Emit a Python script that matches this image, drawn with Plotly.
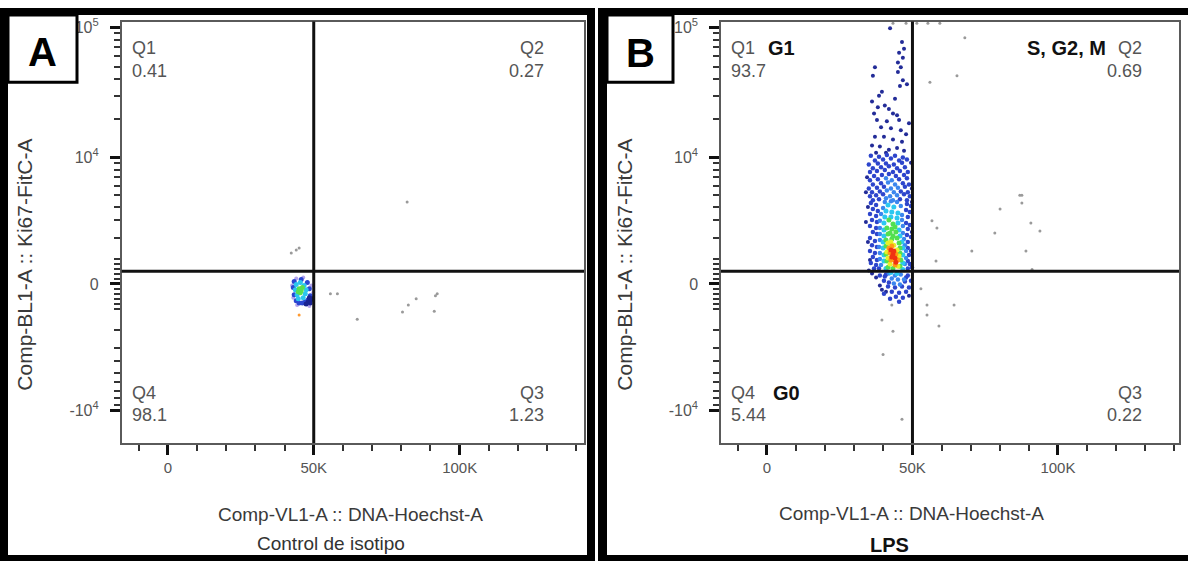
import numpy as np
import plotly.graph_objects as go

W, H = 1188, 561
COF = 2200.0  # arcsinh cofactor of the Ki67 (biexponential-like) axis


def T(v):
    return np.arcsinh(np.asarray(v, dtype=float) / COF)


# ---------------- data ----------------
X_TICKS = [0, 50000, 100000]
X_TICK_TEXT = ["0", "50K", "100K"]
X_MINOR = [-10000, 10000, 20000, 30000, 40000, 60000, 70000, 80000, 90000,
           110000, 120000, 130000, 140000]
Y_TICKS = [-10000, 0, 10000, 100000]
Y_TICK_TEXT = ["-10<sup>4</sup>", "0", "10<sup>4</sup>", "10<sup>5</sup>"]
Y_MINOR = ([-9000, -8000, -7000, -6000, -5000, -4000, -3000, -2000, -1000,
            -800, -600, -400, -200, 200, 400, 600, 800,
            1000, 2000, 3000, 4000, 5000, 6000, 7000, 8000, 9000,
            20000, 30000, 40000, 50000, 60000, 70000, 80000, 90000])
X_GATE = 50000
Y_GATE = 500

QUAD_NAMES = ["Q1", "Q2", "Q3", "Q4"]
A_QUAD_PCT = [0.41, 0.27, 1.23, 98.1]
B_QUAD_PCT = [93.7, 0.69, 0.22, 5.44]
B_PHASES = ["G1", "S, G2, M", "", "G0"]

# events: (DNA-Hoechst in thousands, Ki67 intensity)
A_GRAY = [(42.3, 1255), (44.0, 1390), (45.0, 1480), (55.7, -380), (58.1, -380),
          (64.9, -1450), (80.4, -1130), (82.4, -830), (85.1, -580), (91.7, -460),
          (92.3, -380), (91.3, -1090), (82.0, 4370)]
A_PURPLE = [(42.6, -60), (44.0, 210), (46.4, 250), (49.2, -60), (43.0, -540),
            (49.8, -340), (48.5, -870), (44.3, -830)]
A_NAVY = [(48.1, -700), (48.8, -745), (47.4, -790), (49.5, -580), (48.5, -540)]
A_BLUE = [(43.3, 95), (47.8, 55), (43.0, -140), (48.5, -180), (43.3, -420),
          (48.8, -460), (44.0, -660), (47.1, -700), (48.1, -620), (45.7, 170),
          (45.0, -745), (49.2, -620), (46.1, -745)]
A_CYAN = [(44.0, -20), (46.7, -60), (44.3, -420), (47.1, -380), (45.4, 55),
          (46.4, -540), (44.7, -580), (47.4, -220), (43.7, -220)]
A_GREEN = [(45.0, -180), (45.7, -260), (45.4, -340), (46.1, -140), (44.7, -300),
           (45.4, -220)]
A_ORANGE = [(45.0, -1260)]

B_GRAY = [(43.3, 107000), (47.8, 107000), (51.5, 107000), (55.3, 107000),
          (59.4, 107000), (68.0, 83000), (65.3, 42500), (56.0, 38000),
          (86.9, 5000), (87.6, 5000), (87.6, 4290), (80.1, 3810), (56.7, 2970),
          (58.4, 2530), (90.7, 2840), (93.8, 2360), (78.3, 2250), (70.4, 1345),
          (89.0, 1345), (58.1, 915), (91.1, 570), (52.9, -180), (55.0, -830),
          (55.0, -1260), (64.3, -830), (59.1, -1780), (42.9, -830), (39.5, -1490),
          (43.3, -2040), (39.9, -3480), (46.4, -11700)]
B_NAVY = [(42.3, 98100), (46.4, 77100), (47.1, 68300), (45.4, 63700), (46.7, 58500),
          (45.0, 53800), (46.0, 49400), (37.1, 49400), (36.4, 42500), (45.0, 45400),
          (46.7, 39400), (45.7, 35500), (48.1, 36700), (39.5, 32100), (38.5, 29900),
          (36.1, 27000), (44.0, 28400), (40.5, 25200), (38.1, 24500), (41.9, 23700),
          (43.3, 21900), (36.8, 21900), (44.7, 21200), (37.8, 19500), (41.2, 19100),
          (45.4, 19500), (48.8, 18400), (39.2, 17200), (42.6, 16900), (46.0, 16300),
          (47.8, 15200), (37.1, 14500), (40.2, 14500), (43.3, 13800), (46.4, 13300),
          (36.1, 12400), (38.8, 12200), (41.9, 11500), (44.7, 11900), (40.9, 10900),
          (47.1, 11300), (37.5, 10900),
          (34.4, 7000), (34.0, 5280), (49.5, 9100), (49.8, 5670), (34.7, 3970),
          (34.0, 2900), (34.7, 1770), (35.4, 955), (49.8, 4370), (49.8, 2300),
          (36.1, 410), (37.5, 250), (38.8, -60), (40.9, -300), (48.8, -460),
          (39.5, -220), (35.0, 530)]
B_BLUE = [(35.7, 10350), (38.5, 10150), (41.2, 10500), (44.0, 10350), (46.7, 10000),
          (37.1, 9500), (39.9, 9650), (42.6, 9820), (45.4, 9500), (48.1, 9650),
          (35.0, 8850), (38.1, 9000), (40.9, 9000), (43.6, 8850), (46.4, 9100),
          (36.4, 8250), (39.2, 8400), (41.9, 8550), (44.7, 8250), (47.4, 8400),
          (35.4, 7700), (37.8, 7850), (40.5, 8000), (43.3, 7700), (45.7, 7850), (48.4, 7700),
          (36.8, 7150), (39.5, 7300), (41.9, 7420), (44.3, 7150), (47.1, 7300),
          (35.4, 6620), (38.1, 6750), (45.4, 6750), (48.1, 6880),
          (36.4, 6120), (39.2, 6250), (46.7, 6250), (48.8, 6120),
          (35.0, 5670), (37.8, 5770), (40.2, 5880), (47.4, 5880),
          (36.1, 5280), (38.8, 5370), (46.0, 5370), (48.4, 5280),
          (35.4, 4900), (37.5, 5000), (39.9, 5090), (47.1, 5090), (49.1, 4900),
          (36.4, 4540), (38.5, 4630), (45.7, 4630), (48.1, 4540),
          (35.7, 4290), (37.5, 4130), (48.1, 4210), (49.5, 4050),
          (36.4, 3810), (38.1, 3650), (47.8, 3730), (49.1, 3580),
          (35.4, 3440), (37.5, 3300), (48.4, 3230),
          (36.1, 3030), (37.8, 2900), (47.8, 2840), (49.1, 2710),
          (35.4, 2650), (37.5, 2530), (48.4, 2470),
          (36.4, 2300), (37.8, 2190), (48.1, 2140), (49.5, 2030),
          (35.4, 1980), (37.1, 1820), (48.4, 1770),
          (36.1, 1620), (37.8, 1530), (48.4, 1480), (49.5, 1345),
          (35.4, 1345), (37.1, 1255), (48.8, 1170),
          (36.4, 1080), (37.8, 955), (48.4, 915),
          (35.7, 830), (37.5, 750), (49.1, 790),
          (36.8, 610), (38.5, 610), (48.4, 610), (49.8, 655),
          (38.8, 330), (40.5, 290), (48.4, 330),
          (40.2, 130), (41.9, 55), (47.4, 95), (49.5, 130),
          (41.6, -100), (44.0, -140), (46.4, -100), (48.8, -140),
          (42.9, -300), (45.4, -340), (47.8, -300),
          (44.3, -500), (46.7, -540), (42.3, -580), (45.4, -700), (40.2, -380),
          (40.9, 370), (47.8, 250)]
B_LIGHTBLUE = [(40.9, 6880), (42.9, 6620), (41.6, 6360), (44.0, 6120), (42.6, 5670),
               (45.0, 5770), (41.2, 5470), (43.6, 5280), (42.3, 4900), (44.7, 5000),
               (40.9, 4720), (43.3, 4540),
               (40.5, 4370), (42.6, 4450), (44.7, 4370), (46.0, 4050), (39.9, 3890),
               (39.2, 3440), (46.4, 3370), (38.8, 2970), (46.4, 3030), (38.8, 2530),
               (46.7, 2650), (38.8, 2190), (46.7, 2250), (38.8, 1870), (47.1, 1920),
               (38.5, 1530), (47.4, 1620), (38.8, 1255), (47.8, 1345), (38.8, 995),
               (47.8, 1040), (39.2, 750), (47.4, 790), (41.9, 410), (44.0, 330),
               (46.0, 370), (42.9, 210), (45.0, 170), (47.1, 170), (43.6, 15),
               (45.7, -20)]
B_CYAN = [(41.6, 4130), (43.6, 3970), (40.9, 3650), (42.9, 3580), (45.0, 3510),
          (40.5, 3230), (42.6, 3230), (44.7, 3160), (40.2, 2840), (45.0, 2840),
          (40.2, 2410), (45.4, 2410), (40.2, 2080), (45.7, 2080), (39.9, 1770),
          (46.4, 1770), (39.9, 1480), (46.7, 1480), (40.2, 1170), (46.7, 1170),
          (40.2, 915), (46.7, 830), (40.9, 610), (46.7, 570), (42.6, 450), (44.7, 410)]
B_GREEN = [(41.9, 3030), (43.3, 2770), (41.2, 2530), (42.9, 2470), (44.3, 2300),
           (41.6, 2190), (43.3, 2080), (44.7, 1980), (40.9, 1870), (42.9, 1920),
           (45.4, 1720), (40.9, 1580), (45.7, 1480), (40.9, 1210), (45.7, 1255),
           (41.2, 915), (46.0, 955), (41.6, 655), (43.3, 610), (45.7, 700),
           (44.0, 2590), (42.3, 2250)]
B_YELLOW = [(41.6, 1720), (42.6, 1770), (43.6, 1620), (41.2, 1300), (44.7, 1390),
            (42.3, 790), (45.0, 700), (45.4, 1125), (41.6, 1040)]
B_ORANGE = [(41.9, 1480), (42.9, 1580), (42.3, 1255), (44.3, 1210), (43.6, 955),
            (45.0, 955), (42.6, 955), (44.0, 750)]
B_RED = [(42.6, 1390), (43.3, 1210), (44.0, 1040), (44.3, 860), (42.9, 1080),
         (43.6, 1345)]

# ---------------- figure ----------------
FONT = "Liberation Sans, Arial, sans-serif"
fig = go.Figure()


def add_layer(pts, xa, ya, color, size):
    fig.add_trace(go.Scatter(
        x=[p[0] * 1000 for p in pts], y=T([p[1] for p in pts]),
        mode="markers", xaxis=xa, yaxis=ya, hoverinfo="skip",
        marker=dict(color=color, size=size, line=dict(width=0))))


for pts, col, sz in [(A_GRAY, "#9a9a9a", 3), (A_PURPLE, "#b4a4ec", 4),
                     (A_BLUE, "#2b46d0", 5), (A_NAVY, "#1a2390", 5),
                     (A_CYAN, "#2cc6ee", 5), (A_GREEN, "#58e050", 5),
                     (A_ORANGE, "#ff9a30", 3)]:
    add_layer(pts, "x", "y", col, sz)

for pts, col, sz in [(B_GRAY, "#9a9a9a", 3), (B_NAVY, "#232c98", 4),
                     (B_BLUE, "#2d45cc", 4.5), (B_LIGHTBLUE, "#3b86ee", 4.5),
                     (B_CYAN, "#2cc8f0", 5), (B_GREEN, "#52e050", 5),
                     (B_YELLOW, "#e6f028", 5), (B_ORANGE, "#ff9a14", 5),
                     (B_RED, "#f03212", 5)]:
    add_layer(pts, "x2", "y2", col, sz)

YR = [-2.793, 4.608]


def xaxis_cfg(domain, rng, anchor):
    return dict(domain=domain, range=rng, anchor=anchor, showgrid=False,
                zeroline=False, showline=True, linecolor="#5a5a5a", linewidth=1.5,
                mirror=True, ticks="outside", ticklen=10, tickwidth=3,
                tickcolor="#111", tickvals=X_TICKS, ticktext=X_TICK_TEXT,
                tickfont=dict(family=FONT, size=15, color="#555"),
                minor=dict(tickvals=X_MINOR, ticks="outside", ticklen=6,
                           tickwidth=1.5, tickcolor="#333"),
                fixedrange=True)


def yaxis_cfg(anchor):
    return dict(domain=[1 - 442 / H, 1 - 16.7 / H], range=YR, anchor=anchor,
                showgrid=False, zeroline=False, showline=True,
                linecolor="#5a5a5a", linewidth=1.5, mirror=True,
                ticks="outside", ticklen=10, tickwidth=3, tickcolor="#111",
                tickvals=list(T(Y_TICKS)), ticktext=Y_TICK_TEXT,
                tickfont=dict(family=FONT, size=16, color="#555"),
                ticklabelstandoff=8,
                minor=dict(tickvals=list(T(Y_MINOR)), ticks="outside", ticklen=6,
                           tickwidth=1.5, tickcolor="#333"),
                fixedrange=True)


shapes = []


def prect(x0, y0, x1, y1, fill="black", lw=0, lc="black"):
    shapes.append(dict(type="rect", xref="paper", yref="paper",
                       x0=x0 / W, x1=x1 / W, y0=1 - y1 / H, y1=1 - y0 / H,
                       fillcolor=fill, line=dict(width=lw, color=lc), layer="above"))


# gate lines
for xa, ya in [("x", "y"), ("x2", "y2")]:
    shapes.append(dict(type="line", xref=xa, yref=ya + " domain", x0=X_GATE,
                       x1=X_GATE, y0=0, y1=1, line=dict(color="#111", width=3)))
    shapes.append(dict(type="line", xref=xa + " domain", yref=ya, x0=0, x1=1,
                       y0=float(T(Y_GATE)), y1=float(T(Y_GATE)),
                       line=dict(color="#111", width=3)))

# panel frames
prect(0, 3, 8, 561); prect(0, 3, 595, 10); prect(587, 3, 595, 561); prect(0, 555, 595, 561)
prect(598, 3, 607, 561); prect(598, 3, 1188, 10); prect(598, 555, 1188, 561)
# letter boxes
prect(8, 10, 77, 78, fill="white", lw=3)
prect(607, 10, 673, 78, fill="white", lw=3)

ann = []


def text(t, px, py, size, anchor="left", color="#555", bold=False, angle=0):
    ann.append(dict(text=f"<b>{t}</b>" if bold else t, x=px / W, y=1 - py / H,
                    xref="paper", yref="paper", xanchor=anchor, yanchor="middle",
                    showarrow=False, textangle=angle,
                    font=dict(family=FONT, size=size, color=color)))


text("A", 42, 47, 40, "center", "#000", True)
text("B", 640, 48, 40, "center", "#000", True)

# quadrant labels panel A
QS = 18
text(QUAD_NAMES[0], 130, 43, QS); text(str(A_QUAD_PCT[0]), 130, 67, QS)
text(QUAD_NAMES[1], 546, 43, QS, "right"); text(str(A_QUAD_PCT[1]), 546, 67, QS, "right")
text(QUAD_NAMES[3], 130, 391, QS); text(str(A_QUAD_PCT[3]), 130, 414, QS)
text(QUAD_NAMES[2], 546, 391, QS, "right"); text(str(A_QUAD_PCT[2]), 546, 414, QS, "right")

# quadrant labels panel B
text(QUAD_NAMES[0], 729, 43, QS); text(B_PHASES[0], 766, 43, 20, "left", "#111", True)
text(str(B_QUAD_PCT[0]), 729, 67, QS)
text(QUAD_NAMES[1], 1144, 43, QS, "right"); text(B_PHASES[1], 1108, 43, 20, "right", "#111", True)
text(str(B_QUAD_PCT[1]), 1144, 67, QS, "right")
text(QUAD_NAMES[3], 729, 391, QS); text(B_PHASES[3], 771, 391, 20, "left", "#111", True)
text(str(B_QUAD_PCT[3]), 729, 414, QS)
text(QUAD_NAMES[2], 1144, 391, QS, "right"); text(str(B_QUAD_PCT[2]), 1144, 414, QS, "right")

# axis titles
XT = "Comp-VL1-A :: DNA-Hoechst-A"
YT = "Comp-BL1-A :: Ki67-FitC-A"
text(XT, 350, 514, 19, "center", "#3a3a3a")
text(XT, 911, 513, 19, "center", "#3a3a3a")
text("Control de isotipo", 331, 543, 19, "center", "#333")
text("LPS", 889, 545, 20, "center", "#111", True)
text(YT, 25, 262, 21, "center", "#3a3a3a", angle=-90)
text(YT, 625, 262, 21, "center", "#3a3a3a", angle=-90)

fig.update_layout(
    width=W, height=H, margin=dict(l=0, r=0, t=0, b=0),
    paper_bgcolor="white", plot_bgcolor="white", showlegend=False,
    xaxis=xaxis_cfg([121.7 / W, 584 / W], [-15800, 142600], "y"),
    yaxis=yaxis_cfg("x"),
    xaxis2=xaxis_cfg([721 / W, 1179 / W], [-15800, 141600], "y2"),
    yaxis2=yaxis_cfg("x2"),
    shapes=shapes, annotations=ann,
)

fig.write_html("out.html")
